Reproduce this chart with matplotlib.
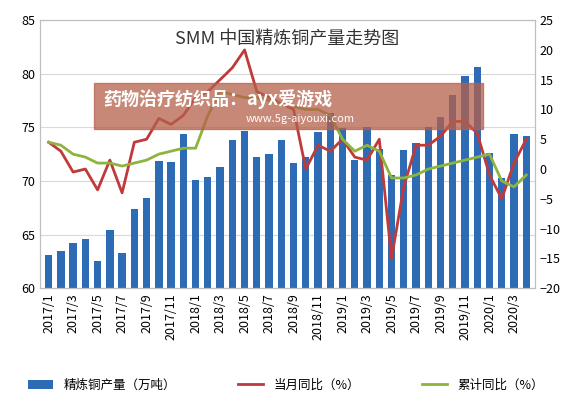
import matplotlib
matplotlib.use("Agg")
import matplotlib.pyplot as plt
import numpy as np
from matplotlib.patches import Rectangle

plt.rcParams['font.family'] = ['Noto Sans CJK SC', 'DejaVu Sans']

months = []
for y in range(2017, 2021):
    for m in range(1, 13):
        if y == 2020 and m > 4: break
        months.append(f"{y}/{m}")
output = [63.1,63.5,64.2,64.6,62.5,65.4,63.3,67.4,68.4,71.9,71.8,74.4,
          70.1,70.4,71.3,73.8,74.7,72.2,72.5,73.8,71.7,72.2,74.6,76.3,
          74.9,72.0,75.0,73.0,70.6,72.9,73.5,75.0,76.0,78.0,79.8,80.6,
          72.6,70.3,74.4,74.2]
monthly = [4.5,3.0,-0.5,0,-3.5,1.5,-4,4.5,5,8.5,7.5,9,
           12,13,15,17,20,13,12,11,10,0,4,3,
           5,2,1.5,5,-15,-3,4,4,5.5,8,8,6,
           -1,-5,1,5]
cumul = [4.5,4,2.5,2,1,1,0.5,1,1.5,2.5,3,3.5,
         3.5,9,13,12.5,12,12,11.5,11,10.5,10,10,9,
         5,3,4,3,-1.5,-1.5,-1,0,0.5,1,1.5,2,
         2.5,-2,-3,-1]

fig = plt.figure(figsize=(5.72,4.03), dpi=100)
ax = fig.add_axes([0.07,0.285,0.865,0.665])
x = np.arange(len(months))
b = ax.bar(x, output, width=0.6, color='#2e6bb5', label='精炼铜产量（万吨）')
ax.set_ylim(60,85); ax.set_yticks(range(60,86,5))
ax.set_xlim(-0.7, len(months)-0.3)
ax.set_xticks(x[::2]); ax.set_xticklabels(months[::2], rotation=90, fontsize=9)
ax.tick_params(labelsize=9, length=0)
ax.grid(axis='y', color='#d9d9d9', lw=0.8); ax.set_axisbelow(True)
for s in ax.spines.values(): s.set_color('#bfbfbf')
ax2 = ax.twinx()
l1, = ax2.plot(x, monthly, color='#c0393b', lw=2, label='当月同比（%）')
l2, = ax2.plot(x, cumul, color='#8db43d', lw=2, label='累计同比（%）')
ax2.set_ylim(-20,25); ax2.set_yticks(range(-20,26,5))
ax2.tick_params(labelsize=9, length=0)
for s in ax2.spines.values(): s.set_color('#bfbfbf')
ax.text(0.5,0.96,'SMM 中国精炼铜产量走势图', fontsize=13, ha='center', va='top',
        transform=ax.transAxes, color='#333333')
fig.legend(handles=[b,l1,l2], loc='lower center', ncol=3, frameon=False,
           fontsize=9, bbox_to_anchor=(0.5,0.0), columnspacing=5)
fig.patches.append(Rectangle((0.165,0.68),0.68,0.115, transform=fig.transFigure,
                             color='#b5604a', alpha=0.75, zorder=10))
fig.text(0.18,0.755,'药物治疗纺织品：ayx爱游戏', color='white', fontsize=13,
         weight='bold', zorder=11, va='center')
fig.text(0.43,0.705,'www.5g-aiyouxi.com', color='white', fontsize=8, zorder=11, va='center')
fig.savefig('out.png')
